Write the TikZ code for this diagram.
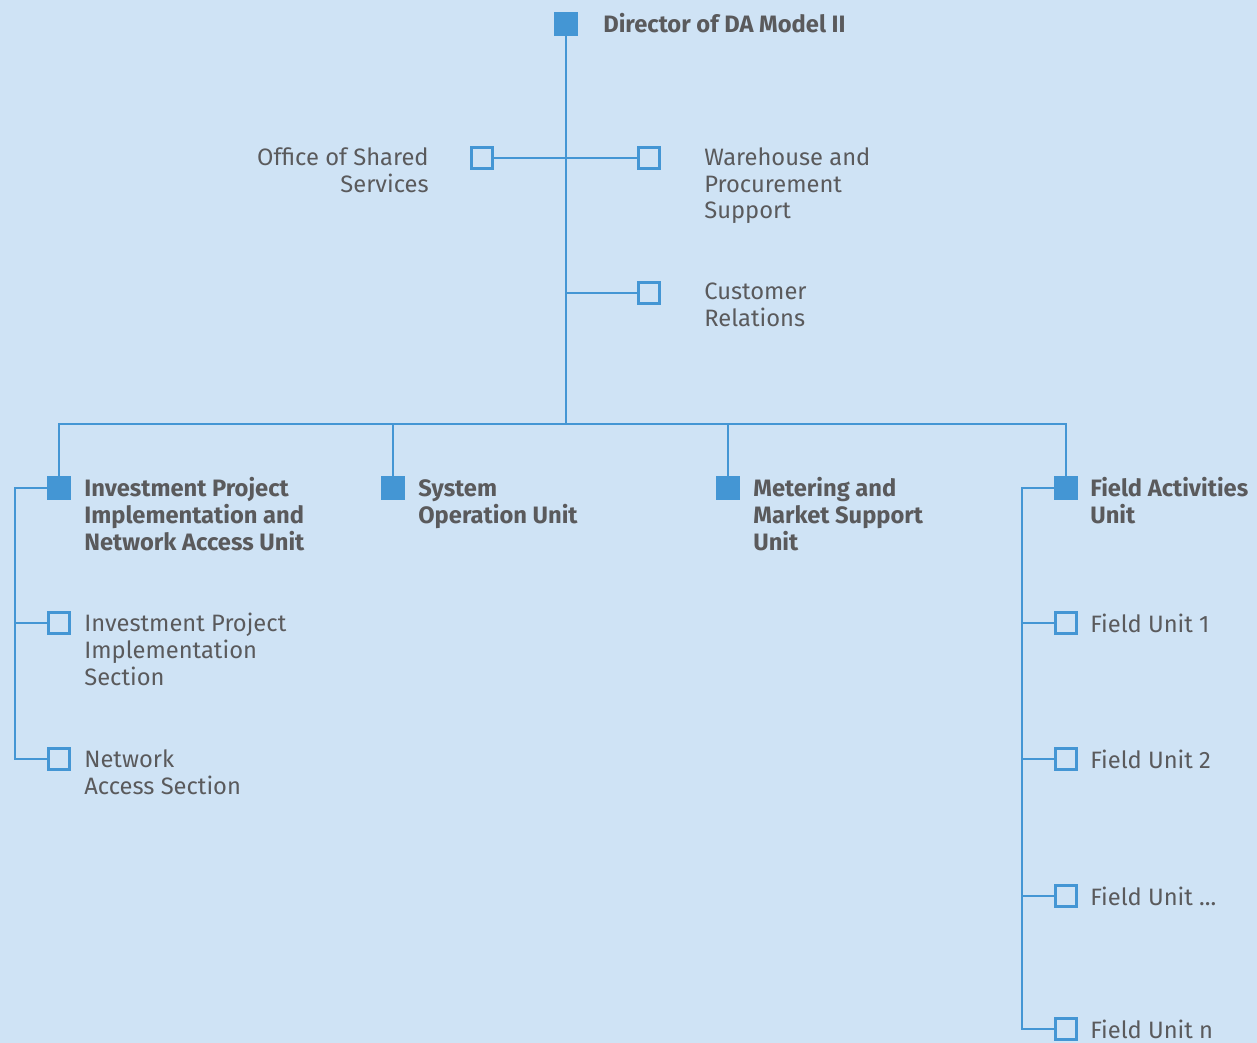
\documentclass[tikz,border=0pt]{standalone}
\usepackage{fontspec}
\setmainfont{Fira Sans}
\usetikzlibrary{positioning, calc}
\definecolor{orgblue}{RGB}{68, 150, 212}
\definecolor{orgback}{RGB}{207, 227, 245}
\definecolor{orgtext}{RGB}{90, 90, 92}
\tikzset{
    headbox/.style={rectangle, fill=orgblue, minimum size=0.48cm, inner sep=0pt},
    subbox/.style={rectangle, draw=orgblue, line width=1.3pt, minimum size=0.42cm, inner sep=0pt},
    link/.style={draw, orgblue, line width=1.2pt},
    headlabel/.style={anchor=base west, inner sep=0pt, align=left, text=orgtext, font=\fontsize{13.5}{15.1}\selectfont\bfseries},
    sublabel/.style={anchor=base west, inner sep=0pt, align=left, text=orgtext, font=\fontsize{13.5}{15.1}\selectfont}
}

\begin{document}
\begin{tikzpicture}[x=0.02cm, y=-0.02cm]
    \fill[orgback] (0,0) rectangle (1257,1043);
    \useasboundingbox (0,0) rectangle (1257,1043);

    % Director
    \node[headbox] (dir) at (566,24) {};
    \node[headlabel] (dir-t) at (603,33) {Director of DA Model II};

    % Staff units (labels sit on their last baseline)
    \node[subbox] (oss) at (482,158) {};
    \node[sublabel, anchor=base east, align=right] (oss-t) at (429,192.5) {Office of Shared\\Services};
    \node[subbox] (wps) at (649,158) {};
    \node[sublabel] (wps-t) at (704,219) {Warehouse and\\Procurement\\Support};
    \node[subbox] (crl) at (649,293) {};
    \node[sublabel] (crl-t) at (704,326.5) {Customer\\Relations};

    % Units
    \node[headbox] (ipn) at (59,488) {};
    \node[headlabel] (ipn-t) at (84,550) {Investment Project\\Implementation and\\Network Access Unit};
    \node[headbox] (sou) at (393,488) {};
    \node[headlabel] (sou-t) at (418,523.5) {System\\Operation Unit};
    \node[headbox] (mms) at (728,488) {};
    \node[headlabel] (mms-t) at (753,550) {Metering and\\Market Support\\Unit};
    \node[headbox] (fau) at (1066,488) {};
    \node[headlabel] (fau-t) at (1090,523.5) {Field Activities\\Unit};

    % Sections
    \node[subbox] (ips) at (59,623) {};
    \node[sublabel] (ips-t) at (84,685) {Investment Project\\Implementation\\Section};
    \node[subbox] (nas) at (59,759) {};
    \node[sublabel] (nas-t) at (84,794.5) {Network\\Access Section};

    % Field units
    \foreach \n/\y/\txt in {1/623/1, 2/759/2, 4/1029/n}{
        \node[subbox] (fu\n) at (1066,\y) {};
        \node[sublabel] (fu\n-t) at (1090,\y+9) {Field Unit \txt};
    }
    \node[subbox] (fu3) at (1066,896) {};
    \node[sublabel] (fu3-t) at (1090,905) {Field Unit ...};

    % Lines
    \coordinate (bus) at (566,424);
    \coordinate (ipn-rail) at (15,488);
    \coordinate (fau-rail) at (1022,488);
    \draw[link] (dir.south) -- (bus);
    \draw[link] (oss.east) -- (wps.west);
    \draw[link] (crl.west) -- (crl.west -| dir.south);
    \draw[link] (ipn.north) -- (ipn.north |- bus) -- (fau.north |- bus) -- (fau.north);
    \draw[link] (sou.north) -- (sou.north |- bus);
    \draw[link] (mms.north) -- (mms.north |- bus);
    \draw[link] (ipn.west) -- (ipn-rail) |- (nas.west);
    \draw[link] (ipn-rail |- ips.west) -- (ips.west);
    \draw[link] (fau.west) -- (fau-rail) |- (fu4.west);
    \foreach \n in {1,2,3}
        \draw[link] (fau-rail |- fu\n.west) -- (fu\n.west);
\end{tikzpicture}
\end{document}
